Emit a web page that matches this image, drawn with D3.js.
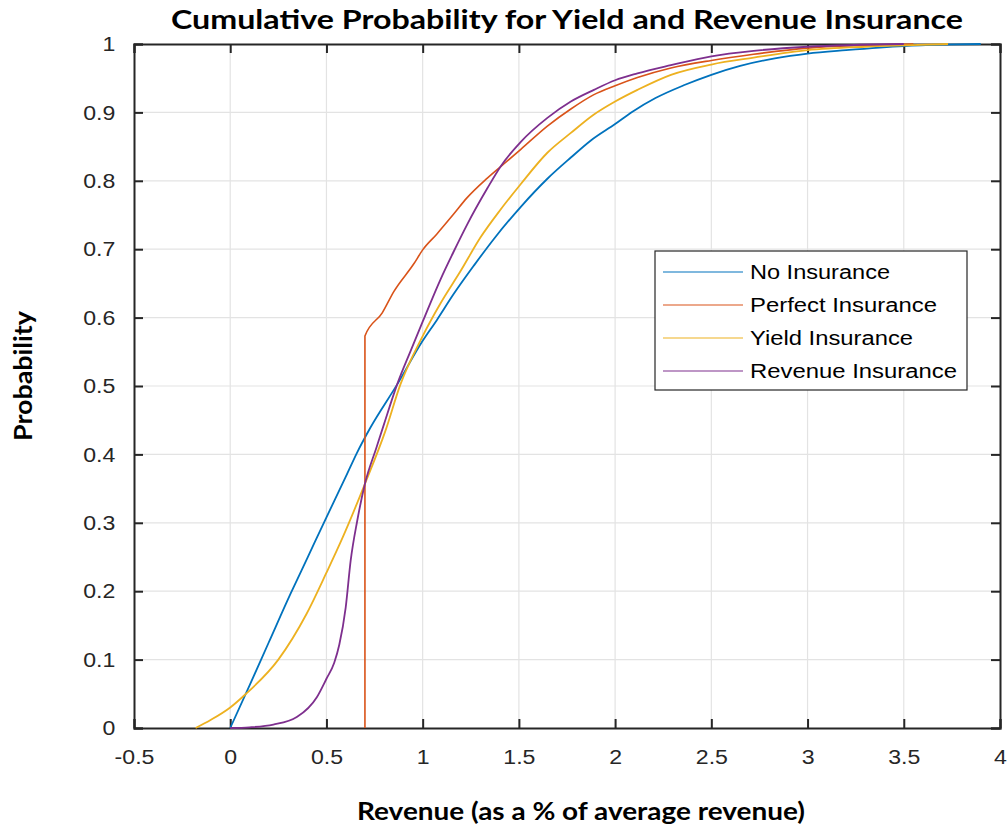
<!DOCTYPE html>
<html>
<head>
<meta charset="utf-8">
<script src="https://cdn.jsdelivr.net/npm/d3@7"></script>
<style>
  body { margin: 0; background: #fff; }
  svg { display: block; }
</style>
</head>
<body>
<svg id="chart" width="1007" height="828"></svg>
<script>
// Werte
const xTicks = [-0.5, 0, 0.5, 1, 1.5, 2, 2.5, 3, 3.5, 4];
const yTicks = [0, 0.1, 0.2, 0.3, 0.4, 0.5, 0.6, 0.7, 0.8, 0.9, 1];

const seriesNames = ["No Insurance", "Perfect Insurance", "Yield Insurance", "Revenue Insurance"];
const seriesColors = ["#0072BD", "#D95319", "#EDB120", "#7E2F8E"];

const noInsX = [0, 0.1, 0.2, 0.313, 0.4, 0.5, 0.6, 0.658, 0.728, 0.867, 1.0, 1.075, 1.16, 1.266, 1.37, 1.51, 1.648, 1.77, 1.874, 2.0, 2.09, 2.21, 2.36, 2.5, 2.65, 2.83, 3.0, 3.2, 3.5, 3.7, 3.9];
const noInsP = [0, 0.062, 0.125, 0.196, 0.248, 0.308, 0.367, 0.402, 0.439, 0.502, 0.566, 0.597, 0.634, 0.676, 0.715, 0.762, 0.803, 0.834, 0.859, 0.883, 0.901, 0.921, 0.940, 0.955, 0.968, 0.979, 0.986, 0.991, 0.997, 0.999, 1.0];

const perfectX = [0.7, 0.7, 0.79, 0.85, 0.955, 1.0, 1.073, 1.16, 1.23, 1.336, 1.44, 1.51, 1.648, 1.77, 1.89, 2.0, 2.116, 2.29, 2.5, 2.72, 3.0, 3.3, 3.55];
const perfectP = [0, 0.573, 0.607, 0.638, 0.679, 0.699, 0.722, 0.751, 0.775, 0.804, 0.829, 0.846, 0.880, 0.905, 0.926, 0.939, 0.951, 0.965, 0.976, 0.985, 0.994, 0.998, 1.0];

const yieldX = [-0.18, -0.1, 0, 0.078, 0.25, 0.397, 0.5, 0.585, 0.70, 0.806, 0.884, 1.0, 1.093, 1.197, 1.30, 1.405, 1.509, 1.648, 1.77, 1.89, 2.0, 2.116, 2.29, 2.5, 2.72, 3.0, 3.3, 3.5, 3.73];
const yieldP = [0, 0.012, 0.03, 0.049, 0.1, 0.167, 0.227, 0.279, 0.357, 0.434, 0.502, 0.573, 0.621, 0.668, 0.717, 0.758, 0.795, 0.841, 0.870, 0.897, 0.916, 0.933, 0.955, 0.970, 0.980, 0.991, 0.996, 0.998, 1.0];

const revenueX = [0, 0.1, 0.224, 0.346, 0.45, 0.5, 0.54, 0.567, 0.6, 0.626, 0.66, 0.70, 0.76, 0.80, 0.867, 0.937, 1.0, 1.093, 1.162, 1.231, 1.336, 1.405, 1.51, 1.648, 1.77, 1.89, 2.0, 2.116, 2.29, 2.5, 2.72, 3.0, 3.5];
const revenueP = [0, 0.001, 0.005, 0.016, 0.045, 0.072, 0.095, 0.122, 0.176, 0.245, 0.303, 0.357, 0.41, 0.445, 0.502, 0.551, 0.594, 0.656, 0.697, 0.736, 0.789, 0.821, 0.857, 0.892, 0.916, 0.933, 0.947, 0.957, 0.969, 0.982, 0.990, 0.996, 1.0];

const seriesX = [noInsX, perfectX, yieldX, revenueX];
const seriesP = [noInsP, perfectP, yieldP, revenueP];

const svg = d3.select("#chart");
const margin = { left: 134, top: 44, right: 7, bottom: 100 };
const width = 1007 - margin.left - margin.right;
const height = 828 - margin.top - margin.bottom;

const x = d3.scaleLinear().domain([-0.5, 4]).range([0, width]);
const y = d3.scaleLinear().domain([0, 1]).range([height, 0]);

const g = svg.append("g").attr("transform", `translate(${margin.left},${margin.top})`);

const axisColor = "#262626";
const tickFont = "'Liberation Sans', Arial, sans-serif";
// normales Minus statt Unicode-Minus
const fmt = d => String(d);

// Gitterlinien
g.append("g")
  .selectAll("line.vgrid")
  .data(xTicks.slice(1, -1))
  .join("line")
  .attr("x1", d => x(d)).attr("x2", d => x(d))
  .attr("y1", 0).attr("y2", height)
  .attr("stroke", "#e3e3e3").attr("stroke-width", 1.2);

g.append("g")
  .selectAll("line.hgrid")
  .data(yTicks.slice(1, -1))
  .join("line")
  .attr("x1", 0).attr("x2", width)
  .attr("y1", d => y(d)).attr("y2", d => y(d))
  .attr("stroke", "#e3e3e3").attr("stroke-width", 1.2);

// Achsen (Ticks nach innen)
const xAxis = g.append("g")
  .attr("transform", `translate(0,${height})`)
  .call(d3.axisBottom(x).tickValues(xTicks).tickSize(-9).tickPadding(21).tickFormat(fmt));
const xAxisTop = g.append("g")
  .call(d3.axisTop(x).tickValues(xTicks).tickSize(-9).tickFormat(""));
const yAxis = g.append("g")
  .call(d3.axisLeft(y).tickValues(yTicks).tickSize(-9).tickPadding(17).tickFormat(fmt));
const yAxisRight = g.append("g")
  .attr("transform", `translate(${width},0)`)
  .call(d3.axisRight(y).tickValues(yTicks).tickSize(-9).tickFormat(""));

[xAxis, xAxisTop, yAxis, yAxisRight].forEach(a => {
  a.select(".domain").attr("stroke", axisColor).attr("stroke-width", 2);
  a.selectAll(".tick line").attr("stroke", axisColor).attr("stroke-width", 2);
  a.selectAll(".tick text")
    .attr("fill", axisColor)
    .style("font-family", tickFont)
    .style("font-size", "21px");
});
xAxis.selectAll(".tick text").attr("transform", "scale(1.1,1)");
yAxis.selectAll(".tick text").attr("transform", "scale(1.1,1)");

// Kurven
const line = d3.line()
  .x(d => x(d[0]))
  .y(d => y(d[1]))
  .curve(d3.curveMonotoneX);

seriesX.forEach((xs, i) => {
  const pts = xs.map((v, j) => [v, seriesP[i][j]]);
  g.append("path")
    .datum(pts)
    .attr("fill", "none")
    .attr("stroke", seriesColors[i])
    .attr("stroke-width", i === 1 ? 1.6 : 1.8)
    .attr("stroke-linejoin", "round")
    .attr("d", line);
});

// Legende
const legend = svg.append("g").attr("transform", "translate(655,251)");
legend.append("rect")
  .attr("width", 312).attr("height", 139)
  .attr("fill", "#fff")
  .attr("stroke", "#262626").attr("stroke-width", 1.2);

seriesNames.forEach((name, i) => {
  const row = legend.append("g").attr("transform", `translate(0,${21 + i * 33})`);
  row.append("line")
    .attr("x1", 8).attr("x2", 88)
    .attr("stroke", seriesColors[i]).attr("stroke-width", 1.2);
  row.append("text")
    .attr("x", 95).attr("dy", "0.35em")
    .attr("fill", "#000")
    .style("font-family", tickFont)
    .style("font-size", "20px")
    .attr("textLength", [140, 187, 163, 207][i])
    .attr("lengthAdjust", "spacingAndGlyphs")
    .text(name);
});

// Titel und Achsenbeschriftungen
const labelFont = "Lato, 'Open Sans', sans-serif";

svg.append("text")
  .attr("x", 567).attr("y", 29)
  .attr("text-anchor", "middle")
  .style("font-family", labelFont)
  .style("font-weight", "bold")
  .style("font-size", "27px")
  .attr("textLength", 792)
  .attr("lengthAdjust", "spacingAndGlyphs")
  .text("Cumulative Probability for Yield and Revenue Insurance");

svg.append("text")
  .attr("x", 581).attr("y", 820)
  .attr("text-anchor", "middle")
  .style("font-family", labelFont)
  .style("font-weight", "bold")
  .style("font-size", "25px")
  .attr("textLength", 448)
  .attr("lengthAdjust", "spacingAndGlyphs")
  .text("Revenue (as a % of average revenue)");

svg.append("text")
  .attr("transform", "translate(32,376) rotate(-90)")
  .attr("text-anchor", "middle")
  .style("font-family", labelFont)
  .style("font-weight", "bold")
  .style("font-size", "25px")
  .attr("textLength", 130)
  .attr("lengthAdjust", "spacingAndGlyphs")
  .text("Probability");
</script>
</body>
</html>
